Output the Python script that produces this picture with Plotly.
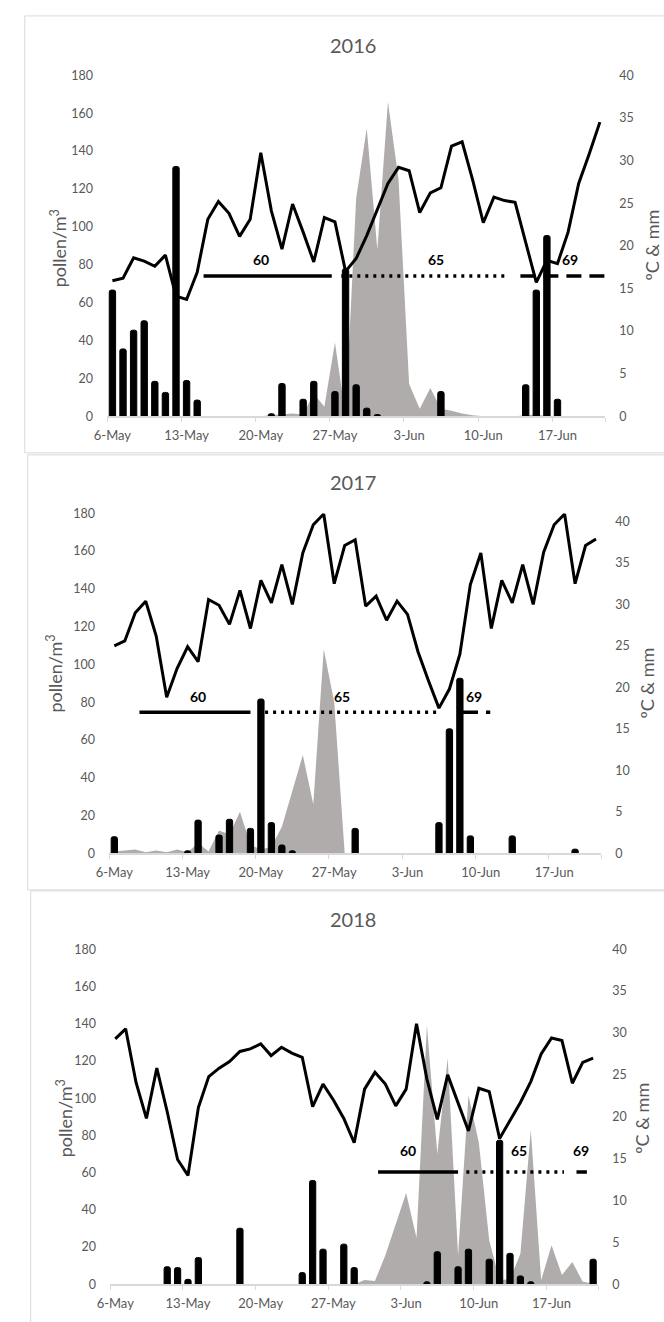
import plotly.graph_objects as go

W, H = 664, 1322

# ---- data -------------------------------------------------------------
days = list(range(47))  # 6-May .. 21-Jun
tick_days = [0, 7, 14, 21, 28, 35, 42]
tick_labels = ["6-May", "13-May", "20-May", "27-May", "3-Jun", "10-Jun", "17-Jun"]
years = ["2016", "2017", "2018"]

# daily mean temperature (ºC)
temp_2016 = [15.9, 16.2, 18.6, 18.2, 17.6, 18.9, 14.1, 13.7, 16.9, 23.1,
             25.2, 23.8, 21.1, 23.1, 30.9, 24.1, 19.6, 24.9, 21.6, 18.1,
             23.3, 22.8, 17.0, 18.5, 21.2, 24.3, 27.3, 29.2, 28.8, 23.9,
             26.2, 26.8, 31.7, 32.2, 27.7, 22.7, 25.7, 25.3, 25.1, 20.4,
             15.7, 18.3, 17.9, 21.6, 27.3, 30.8, 34.5]
temp_2017 = [25.0, 25.6, 29.0, 30.4, 26.2, 18.8, 22.3, 24.9, 23.1, 30.6,
             29.9, 27.6, 31.7, 27.1, 32.9, 30.2, 34.8, 30.0, 36.2, 39.6,
             40.9, 32.5, 37.1, 37.8, 29.8, 31.0, 28.1, 30.4, 28.8, 24.3,
             20.8, 17.5, 19.8, 24.0, 32.4, 36.2, 27.1, 32.9, 30.2, 34.8,
             30.0, 36.3, 39.6, 40.9, 32.5, 37.1, 37.9]
temp_2018 = [29.3, 30.5, 24.1, 19.8, 25.8, 20.6, 14.9, 13.0, 21.1, 24.8,
             25.8, 26.6, 27.8, 28.1, 28.7, 27.3, 28.3, 27.6, 27.1, 21.2,
             23.9, 22.0, 19.8, 16.9, 23.3, 25.3, 23.9, 21.3, 23.3, 31.1,
             24.5, 19.7, 25.0, 21.7, 18.3, 23.4, 23.0, 17.4, 19.5, 21.7,
             24.2, 27.5, 29.4, 29.1, 24.0, 26.5, 27.0]

# daily rainfall (mm)
rain_2016 = [14.8, 7.9, 10.1, 11.2, 4.1, 2.8, 29.3, 4.2, 1.9, 0,
             0, 0, 0, 0, 0, 0.3, 3.85, 0, 2.0, 4.1,
             0, 2.9, 17.3, 3.7, 0.96, 0.2, 0, 0, 0, 0,
             0, 2.9, 0, 0, 0, 0, 0, 0, 0, 3.7,
             14.8, 21.2, 2.0, 0, 0, 0, 0]
rain_2017 = [2.0, 0, 0, 0, 0, 0, 0, 0.3, 4.0, 0,
             2.2, 4.1, 0, 3.0, 18.6, 3.7, 1.0, 0.3, 0, 0,
             0, 0, 0, 3.0, 0, 0, 0, 0, 0, 0,
             0, 3.7, 15.0, 21.1, 2.1, 0, 0, 0, 2.1, 0,
             0, 0, 0, 0, 0.5, 0, 0]
rain_2018 = [0, 0, 0, 0, 0, 2.1, 2.0, 0.6, 3.2, 0,
             0, 0, 6.7, 0, 0, 0, 0, 0, 1.4, 12.4,
             4.2, 0, 4.8, 2.0, 0, 0, 0, 0, 0, 0,
             0.3, 3.9, 0, 2.1, 4.2, 0, 3.0, 17.2, 3.7, 1.0,
             0.3, 0, 0, 0, 0, 0, 3.0]

# airborne pollen (pollen/m3)
pollen_2016 = [0, 0, 0, 0, 0, 0, 0, 0, 0, 0,
               0, 0, 0, 0, 0, 0.5, 1, 1.5, 1, 12,
               5, 39, 0, 115, 152, 88, 166, 125, 17, 4,
               15, 4, 3, 1.5, 0.5, 0, 0, 0, 0, 0.5,
               1, 0, 0, 0, 0, 0, 0]
pollen_2017 = [1, 1.5, 2, 0.5, 1.5, 0.5, 2, 0.5, 5.5, 1,
               12, 10, 22, 4.5, 2, 3.5, 14, 33, 52, 26,
               108, 80, 0, 0, 0, 0, 0, 0, 0, 0,
               0, 0, 0, 0, 0, 0, 0, 0, 0, 0,
               0, 0, 0, 0, 0, 0, 0]
pollen_2018 = [0, 0, 0, 0, 0, 0, 0, 0, 0, 0,
               0, 0, 0, 0, 0, 0, 0, 0, 0, 0,
               0, 0, 0, 0, 2.3, 1.8, 15.6, 32, 49, 25,
               139, 70, 121.5, 15.6, 101.5, 76, 23.6, 2.3, 2.7, 16.5,
               83, 2.3, 21, 5, 12, 1.4, 0.5]

# phenological stages: (code, first day, last day)
stages_2016 = [("60", 8.6, 20.7), ("65", 21.6, 37.2), ("69", 38.5, 46.8)]
stages_2017 = [("60", 2.4, 13.0), ("65", 14.4, 31.2), ("69", 33.3, 35.9)]
stages_2018 = [("60", 25.3, 33.0), ("65", 33.8, 43.2), ("69", 44.4, 45.4)]
stage_label_day_2016 = [14.0, 30.5, 43.2]
stage_label_day_2017 = [8.0, 21.7, 34.3]
stage_label_day_2018 = [28.2, 38.9, 44.8]

temps = [temp_2016, temp_2017, temp_2018]
rains = [rain_2016, rain_2017, rain_2018]
pollens = [pollen_2016, pollen_2017, pollen_2018]
stages = [stages_2016, stages_2017, stages_2018]
stage_label_days = [stage_label_day_2016, stage_label_day_2017, stage_label_day_2018]

# ---- layout of the three panels (pixels) ---------------------------------
panel_geo = [
    dict(plot=(96, 604, 68, 413), box=(12, 8, 450), title_y=37,
         ltitle=(47, 243), rtitle=(652, 240), y2max=40, level=74, label_y=83),
    dict(plot=(98, 600, 511, 855), box=(15, 452, 892), title_y=479,
         ltitle=(43, 673), rtitle=(647, 683), y2max=41, level=74.6, label_y=83),
    dict(plot=(99, 597, 952, 1291), box=(18, 893, 1340), title_y=921,
         ltitle=(53, 1123), rtitle=(642, 1123), y2max=40, level=60.4, label_y=72),
]

GRAY_AREA = "#B0ACAC"
TEXT = "#595959"
AXIS = "#D9D9D9"
FONT = "Lato"
dash_styles = {"60": "solid", "65": "3px,5px", "69": "15px,8px"}


def fx(px):
    return px / W


def fy(py):
    return 1 - py / H


fig = go.Figure()
layout = dict(
    width=W, height=H, margin=dict(l=0, r=0, t=0, b=0),
    paper_bgcolor="white", plot_bgcolor="rgba(0,0,0,0)",
    showlegend=False, font=dict(family=FONT, color=TEXT),
    shapes=[], annotations=[],
)

for i, year in enumerate(years):
    g = panel_geo[i]
    xa = "x" if i == 0 else f"x{i + 1}"
    yl_n, yr_n = 2 * i + 1, 2 * i + 2
    yl = "y" if yl_n == 1 else f"y{yl_n}"
    yr = f"y{yr_n}"
    x0, x1, ytop, ybot = g["plot"]

    # pollen area
    fig.add_trace(go.Scatter(
        x=days, y=pollens[i], mode="lines", fill="tozeroy",
        line=dict(width=0, color=GRAY_AREA), fillcolor=GRAY_AREA,
        xaxis=xa, yaxis=yl, hoverinfo="skip"))

    # phenological stage segments
    for code, d0, d1 in stages[i]:
        fig.add_trace(go.Scatter(
            x=[d0, d1], y=[g["level"], g["level"]], mode="lines",
            line=dict(color="black", width=3.5, dash=dash_styles[code]),
            xaxis=xa, yaxis=yl, hoverinfo="skip"))
    for (code, _, _), lx in zip(stages[i], stage_label_days[i]):
        layout["annotations"].append(dict(
            x=lx, y=g["label_y"], xref=xa, yref=yl, text=f"<b>{code}</b>",
            showarrow=False, font=dict(family=FONT, size=14, color="black")))

    # rainfall bars (days with rain only)
    rx = [d for d, r in zip(days, rains[i]) if r > 0]
    ry = [r for r in rains[i] if r > 0]
    fig.add_trace(go.Bar(
        x=rx, y=ry, width=0.6,
        marker=dict(color="black", line=dict(color="black", width=1), cornerradius=2),
        xaxis=xa, yaxis=yr, hoverinfo="skip"))

    # temperature line
    fig.add_trace(go.Scatter(
        x=days, y=temps[i], mode="lines",
        line=dict(color="black", width=3),
        xaxis=xa, yaxis=yr, hoverinfo="skip"))

    dom_x = [fx(x0), fx(x1)]
    dom_y = [fy(ybot), fy(ytop)]
    xkey = "xaxis" if i == 0 else f"xaxis{i + 1}"
    layout[xkey] = dict(
        domain=dom_x, anchor=yl, range=[-0.5, 46.5],
        tickmode="array", tickvals=tick_days, ticktext=tick_labels,
        ticks="", showgrid=False, zeroline=False,
        showline=True, linecolor=AXIS, linewidth=1.5,
        tickfont=dict(family=FONT, size=13, color=TEXT),
        ticklabelstandoff=6,
        minor=dict(tickmode="array", tickvals=[d - 0.5 for d in tick_days] + [46.5],
                   ticks="outside", ticklen=4, tickcolor=AXIS, tickwidth=1),
    )
    layout[f"yaxis{yl_n}" if yl_n > 1 else "yaxis"] = dict(
        domain=dom_y, anchor=xa, range=[0, 180], dtick=20, tick0=0,
        showgrid=False, zeroline=False, showline=False, ticks="",
        tickfont=dict(family=FONT, size=12.5, color=TEXT), ticklabelstandoff=13,
    )
    layout[f"yaxis{yr_n}"] = dict(
        domain=dom_y, anchor=xa, overlaying=yl, side="right",
        range=[0, g["y2max"]], dtick=5, tick0=0,
        showgrid=False, zeroline=False, showline=False, ticks="",
        tickfont=dict(family=FONT, size=12.5, color=TEXT), ticklabelstandoff=13,
    )

    # panel frame
    bx, by0, by1 = g["box"]
    layout["shapes"].append(dict(
        type="rect", xref="paper", yref="paper", layer="below",
        x0=fx(bx), x1=1.05, y0=fy(by1), y1=fy(by0),
        line=dict(color=AXIS, width=1), fillcolor="rgba(0,0,0,0)"))

    # titles
    layout["annotations"].append(dict(
        x=fx(347), y=fy(g["title_y"]), xref="paper", yref="paper",
        text=year, showarrow=False, xanchor="center", yanchor="middle",
        font=dict(family=FONT, size=20, color=TEXT)))
    lx, ly = g["ltitle"]
    layout["annotations"].append(dict(
        x=fx(lx), y=fy(ly), xref="paper", yref="paper",
        text="pollen/m<sup>3</sup>", textangle=-90, showarrow=False,
        xanchor="center", yanchor="middle",
        font=dict(family=FONT, size=18, color=TEXT)))
    rx_, ry_ = g["rtitle"]
    layout["annotations"].append(dict(
        x=fx(rx_), y=fy(ry_), xref="paper", yref="paper",
        text="ºC &amp; mm", textangle=-90, showarrow=False,
        xanchor="center", yanchor="middle",
        font=dict(family=FONT, size=18, color=TEXT)))

fig.update_layout(**layout)
fig.write_html("out.html")
